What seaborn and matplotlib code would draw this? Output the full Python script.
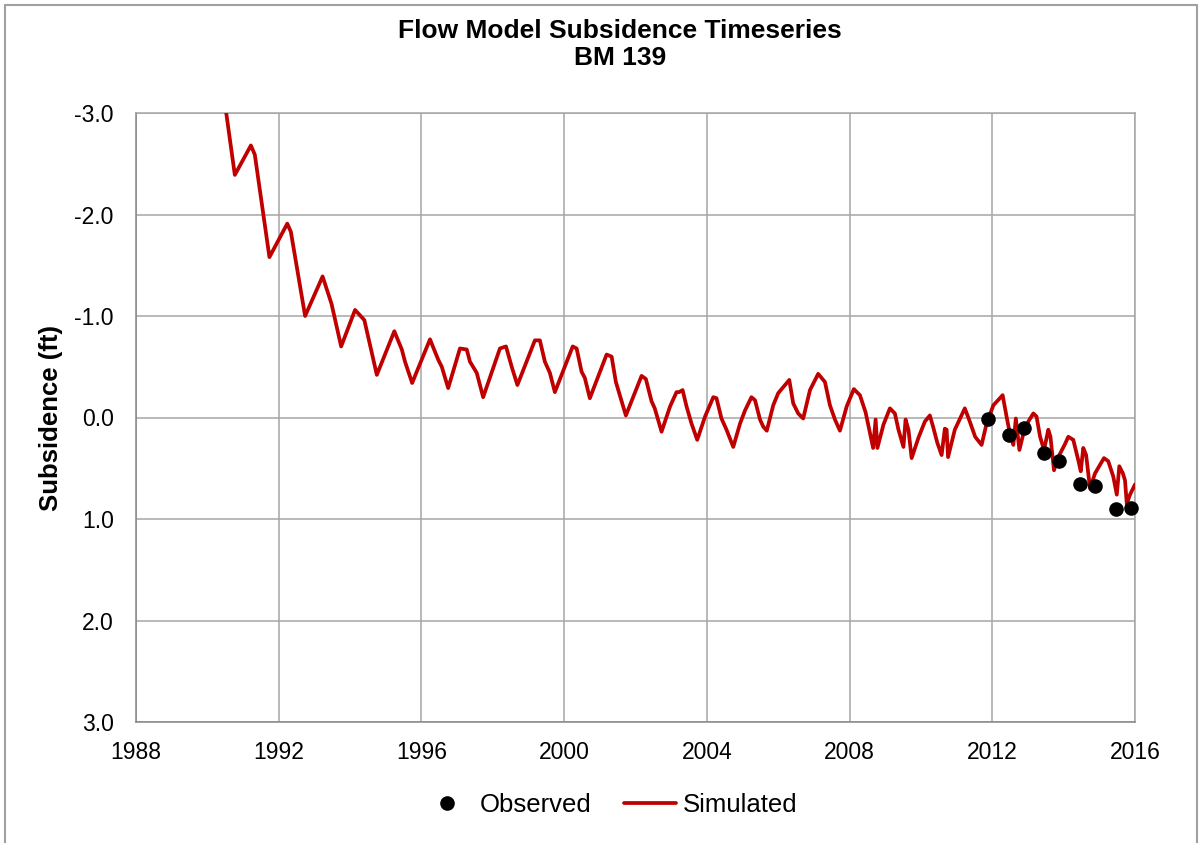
import matplotlib
matplotlib.use("Agg")
import matplotlib.pyplot as plt
import seaborn as sns
import pandas as pd
from matplotlib.lines import Line2D

# Style
sns.set_style("white")
plt.rcParams['font.family'] = ['Liberation Sans', 'DejaVu Sans']
plt.rcParams['axes.unicode_minus'] = False
plt.rcParams['text.color'] = 'black'

# -----------------------------
# DATA
# -----------------------------

sim_year = [
    1990.45, 1990.77, 1991.22, 1991.33, 1991.74, 1992.24, 1992.34, 1992.74,
    1993.23, 1993.48, 1993.75, 1994.14, 1994.40, 1994.75, 1995.24, 1995.45,
    1995.54, 1995.74, 1996.24, 1996.47, 1996.57, 1996.75, 1997.08, 1997.27,
    1997.36, 1997.55, 1997.73, 1998.20, 1998.37, 1998.53, 1998.69, 1999.18,
    1999.32, 1999.46, 1999.60, 1999.74, 2000.24, 2000.35, 2000.49, 2000.58,
    2000.72, 2001.19, 2001.33, 2001.45, 2001.56, 2001.73, 2002.17, 2002.29,
    2002.45, 2002.54, 2002.73, 2002.97, 2003.15, 2003.22, 2003.32, 2003.43,
    2003.57, 2003.73, 2003.95, 2004.18, 2004.27, 2004.41, 2004.55, 2004.74,
    2004.93, 2005.07, 2005.25, 2005.35, 2005.49, 2005.58, 2005.68, 2005.86,
    2006.00, 2006.31, 2006.42, 2006.56, 2006.70, 2006.89, 2007.12, 2007.31,
    2007.45, 2007.59, 2007.73, 2007.92, 2008.12, 2008.29, 2008.45, 2008.66,
    2008.73, 2008.78, 2008.95, 2009.13, 2009.27, 2009.37, 2009.51, 2009.57,
    2009.65, 2009.74, 2009.93, 2010.11, 2010.25, 2010.34, 2010.46, 2010.58,
    2010.67, 2010.72, 2010.76, 2010.95, 2011.23, 2011.37, 2011.52, 2011.70,
    2011.84, 2012.03, 2012.29, 2012.40, 2012.50, 2012.59, 2012.66, 2012.76,
    2012.87, 2013.01, 2013.15, 2013.24, 2013.34, 2013.45, 2013.57, 2013.63,
    2013.73, 2013.85, 2014.04, 2014.13, 2014.27, 2014.41, 2014.48, 2014.55,
    2014.63, 2014.74, 2014.88, 2015.13, 2015.25, 2015.39, 2015.49, 2015.56,
    2015.66, 2015.72, 2015.77, 2015.86, 2016.00,
]
sim_value = [
    -3.20, -2.39, -2.68, -2.59, -1.58, -1.91, -1.83, -1.00,
    -1.39, -1.12, -0.70, -1.06, -0.96, -0.42, -0.85, -0.67,
    -0.55, -0.34, -0.77, -0.57, -0.50, -0.29, -0.68, -0.67,
    -0.55, -0.44, -0.20, -0.68, -0.70, -0.50, -0.32, -0.76,
    -0.76, -0.55, -0.44, -0.25, -0.70, -0.68, -0.45, -0.39,
    -0.19, -0.62, -0.60, -0.35, -0.22, -0.02, -0.41, -0.38,
    -0.16, -0.09, 0.14, -0.11, -0.25, -0.25, -0.27, -0.11,
    0.06, 0.22, -0.01, -0.20, -0.19, 0.01, 0.12, 0.29,
    0.06, -0.07, -0.20, -0.17, 0.02, 0.09, 0.13, -0.12,
    -0.24, -0.37, -0.14, -0.04, 0.01, -0.27, -0.43, -0.35,
    -0.12, 0.02, 0.13, -0.11, -0.28, -0.22, -0.05, 0.30,
    0.02, 0.30, 0.07, -0.09, -0.04, 0.12, 0.29, 0.02,
    0.12, 0.40, 0.20, 0.04, -0.02, 0.09, 0.25, 0.37,
    0.11, 0.12, 0.39, 0.12, -0.09, 0.04, 0.19, 0.27,
    0.06, -0.12, -0.22, -0.01, 0.17, 0.27, 0.01, 0.32,
    0.16, 0.04, -0.04, -0.01, 0.19, 0.32, 0.12, 0.19,
    0.52, 0.39, 0.26, 0.19, 0.22, 0.42, 0.53, 0.30,
    0.37, 0.70, 0.55, 0.40, 0.43, 0.58, 0.76, 0.48,
    0.55, 0.62, 0.85, 0.76, 0.66,
]

obs_year = [2011.89, 2012.47, 2012.90, 2013.46, 2013.88, 2014.46, 2014.88, 2015.46, 2015.88]
obs_value = [0.01, 0.17, 0.10, 0.35, 0.43, 0.66, 0.67, 0.90, 0.89]

x_ticks = [1988, 1992, 1996, 2000, 2004, 2008, 2012, 2016]
y_ticks = [-3.0, -2.0, -1.0, 0.0, 1.0, 2.0, 3.0]

sim = pd.DataFrame({"year": sim_year, "value": sim_value})
obs = pd.DataFrame({"year": obs_year, "value": obs_value})

# -----------------------------
# PLOT
# -----------------------------

W, H = 1201, 843
fig = plt.figure(figsize=(W / 100, H / 100), dpi=100)
ax = fig.add_axes([136 / W, 1 - 722 / H, 999 / W, 609 / H])

grid_c = "#a6a6a6"
red = "#c00000"

sns.lineplot(data=sim, x="year", y="value", ax=ax, color=red, lw=2.7,
             sort=False, estimator=None, legend=False, zorder=3)
sns.scatterplot(data=obs, x="year", y="value", ax=ax, color="black", s=110,
                edgecolor="black", linewidth=0, legend=False, zorder=4,
                clip_on=False)

ax.set_xlim(1988, 2016)
ax.set_ylim(3.0, -3.0)
ax.set_xticks(x_ticks)
ax.set_yticks(y_ticks)
ax.set_yticklabels([f"{v:.1f}" for v in y_ticks])
ax.grid(True, color=grid_c, lw=1.1)
ax.set_axisbelow(True)
for s in ax.spines.values():
    s.set_color(grid_c)
    s.set_linewidth(1.1)
ax.spines["left"].set_color("#868686")
ax.spines["bottom"].set_color("#868686")
ax.tick_params(axis="both", labelsize=16.5, colors="black", length=5,
               color="#868686", width=1.1, direction="out")
ax.tick_params(axis="x", pad=9)
ax.tick_params(axis="y", pad=11)

ax.set_xlabel("")
ax.set_ylabel("")
fig.text(51 / W, 1 - 418 / H, "Subsidence (ft)", rotation=90, ha="center",
         va="center", fontsize=18.5, fontweight="bold")

fig.text(620 / W, 1 - 38 / H, "Flow Model Subsidence Timeseries",
         ha="center", va="baseline", fontsize=19, fontweight="bold")
fig.text(620 / W, 1 - 65 / H, "BM 139",
         ha="center", va="baseline", fontsize=19, fontweight="bold")

handles = [
    Line2D([], [], marker="o", ls="none", color="black", markersize=9.5),
    Line2D([], [], color=red, lw=2.7),
]
fig.legend(handles, ["Observed", "Simulated"], loc="center",
           bbox_to_anchor=(609 / W, 1 - 805 / H), ncol=2, frameon=False,
           fontsize=18.5, handlelength=2.05, handletextpad=0.25,
           columnspacing=1.25, borderpad=0, borderaxespad=0)

# outer chart border (top, left, right)
bc = "#a0a0a0"
fig.add_artist(Line2D([5 / W, 1197 / W], [1 - 5 / H, 1 - 5 / H], color=bc, lw=1.5))
fig.add_artist(Line2D([5 / W, 5 / W], [1 - 5 / H, 0], color=bc, lw=1.5))
fig.add_artist(Line2D([1197 / W, 1197 / W], [1 - 5 / H, 0], color=bc, lw=1.5))

plt.savefig("out.png", dpi=100)
